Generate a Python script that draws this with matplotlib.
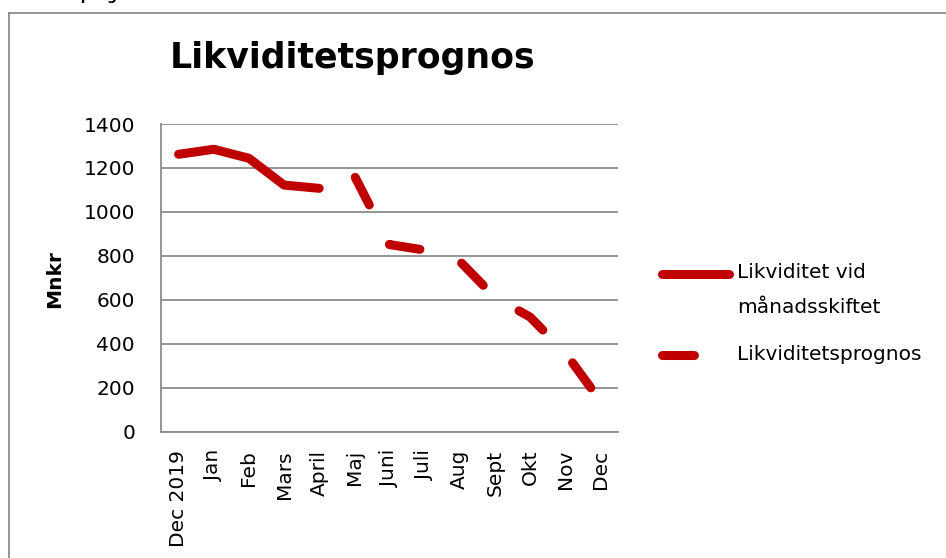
import matplotlib
matplotlib.use('Agg')
import matplotlib.pyplot as plt
from matplotlib.lines import Line2D

plt.rcParams['font.family'] = ['DejaVu Sans']
plt.rcParams['lines.scale_dashes'] = False

# ---- data ----
categories = ['Dec 2019', 'Jan', 'Feb', 'Mars', 'April', 'Maj', 'Juni',
              'Juli', 'Aug', 'Sept', 'Okt', 'Nov', 'Dec']
actual_labels = categories[:5]
actual = [1262, 1285, 1244, 1122, 1107]            # Likviditet vid månadsskiftet
forecast_labels = categories[5:]
forecast = [1165, 851, 826, 775, 611, 521, 358, 139]  # Likviditetsprognos
yticks = [0, 200, 400, 600, 800, 1000, 1200, 1400]

series1_name = 'Likviditet vid\nmånadsskiftet'
series2_name = 'Likviditetsprognos'
title = 'Likviditetsprognos'
ylabel = 'Mnkr'

# ---- layout helpers (pixel based) ----
W, H = 946, 558
fig = plt.figure(figsize=(W / 100, H / 100), dpi=100)
fig.patch.set_facecolor('white')


def fx(px):
    return px / W


def fy(py):
    return 1 - py / H


RED = '#C00000'
GRID = '#8c8c8c'
LW = 6.5
FS = 14.5

# outer frame (partially cropped)
fig.add_artist(Line2D([fx(8.5), fx(946)], [fy(12.5), fy(12.5)], color=GRID, lw=1.3))
fig.add_artist(Line2D([fx(8.5), fx(8.5)], [fy(12.5), fy(558)], color=GRID, lw=1.3))

# cropped heading at the very top
fig.text(fx(0), fy(0), 'Likviditetsprognos', fontsize=10, fontweight='bold',
         ha='left', va='baseline', color='black')

ax = fig.add_axes([fx(161), fy(431.5), (618 - 161) / W, (431.5 - 124) / H])
ax.set_xlim(-0.5, len(categories) - 0.5)
ax.set_ylim(0, 1400)

xpos = {c: i for i, c in enumerate(categories)}
ax.plot([xpos[c] for c in actual_labels], actual, color=RED, lw=LW,
        solid_capstyle='round', solid_joinstyle='round', zorder=3)
ax.plot([xpos[c] for c in forecast_labels], forecast, color=RED, lw=LW,
        linestyle=(52.8, (22.3, 31.9)), dash_capstyle='round',
        dash_joinstyle='round', zorder=3)

ax.set_yticks(yticks)
ax.set_yticklabels([str(v) for v in yticks])
ax.set_xticks(range(len(categories)))
ax.set_xticklabels(categories, rotation=90, ha='center', va='top')
ax.yaxis.grid(True, color=GRID, lw=1.3)
ax.set_axisbelow(True)
for s in ['top', 'right']:
    ax.spines[s].set_visible(False)
for s in ['left', 'bottom']:
    ax.spines[s].set_color(GRID)
    ax.spines[s].set_linewidth(1.3)
ax.tick_params(axis='y', length=0, pad=18.7, labelsize=FS)
ax.tick_params(axis='x', length=0, pad=13.3, labelsize=FS)

fig.text(fx(55), fy(279), ylabel, rotation=90, fontweight='bold',
         ha='center', va='center', fontsize=FS)
fig.text(fx(353), fy(68), title, fontsize=25, fontweight='bold',
         ha='center', va='baseline')

# legend (manual)
fig.add_artist(Line2D([fx(661.5), fx(728.5)], [fy(274), fy(274)], color=RED,
                      lw=LW, solid_capstyle='round'))
fig.add_artist(Line2D([fx(661.5), fx(693.5)], [fy(355), fy(355)], color=RED,
                      lw=LW, solid_capstyle='round'))
l1, l2 = series1_name.split('\n')
fig.text(fx(737), fy(278), l1, fontsize=FS, ha='left', va='baseline')
fig.text(fx(737), fy(313), l2, fontsize=FS, ha='left', va='baseline')
fig.text(fx(737), fy(360), series2_name, fontsize=FS, ha='left', va='baseline')

fig.savefig('out.png', dpi=100)
